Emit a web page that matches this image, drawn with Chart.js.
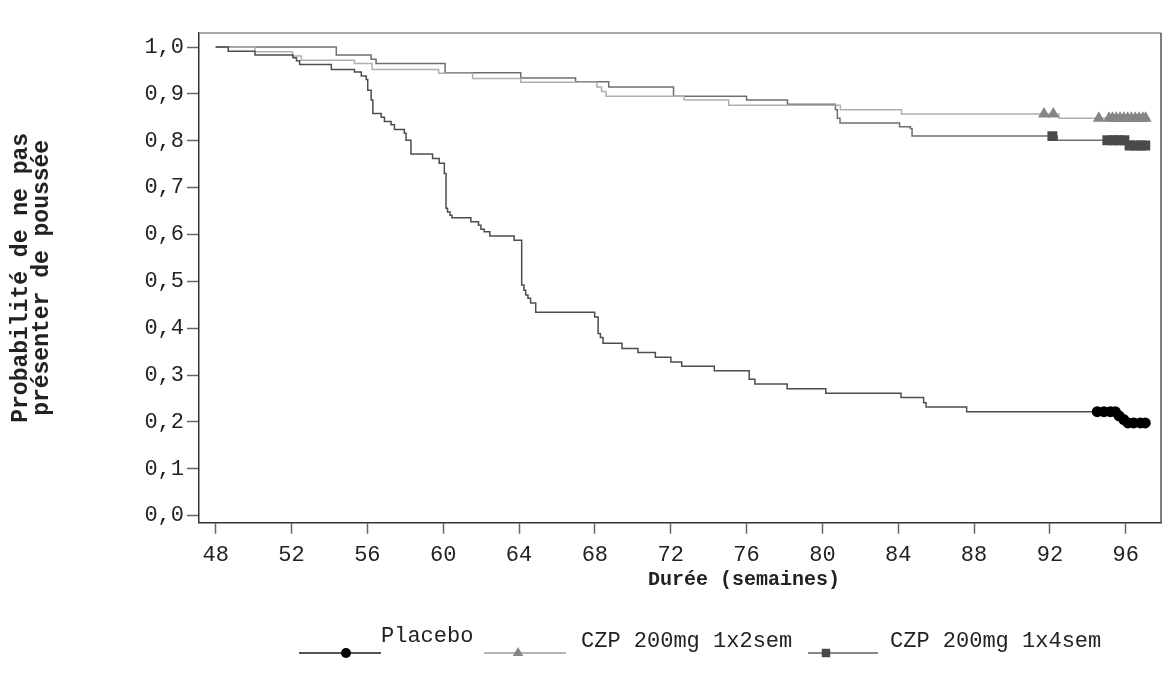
<!DOCTYPE html>
<html>
<head>
<meta charset="utf-8">
<script src="https://cdn.jsdelivr.net/npm/chart.js@4.4.1/dist/chart.umd.min.js"></script>
<style>
  body { margin: 0; background: #fff; }
  #wrap { width: 1168px; height: 677px; }
</style>
</head>
<body>
<div id="wrap"><canvas id="km" width="1168" height="677"></canvas></div>
<script>
// --- data (weeks, survival probability) ---
const seriesLabels = ['Placebo', 'CZP 200mg 1x2sem', 'CZP 200mg 1x4sem'];
const xTicks = [48, 52, 56, 60, 64, 68, 72, 76, 80, 84, 88, 92, 96];
const yTicks = [0, 0.1, 0.2, 0.3, 0.4, 0.5, 0.6, 0.7, 0.8, 0.9, 1.0];

// Placebo step curve
const placeboWeeks = [48, 48.66, 50.07, 52.08, 52.26, 52.43, 54.10, 55.32, 55.68, 55.94, 56.02, 56.20, 56.29, 56.73, 56.90, 57.25, 57.43, 57.95, 58.04, 58.30, 59.44, 59.79, 60.06, 60.15, 60.23, 60.36, 60.46, 61.46, 61.86, 61.99, 62.16, 62.46, 63.74, 64.14, 64.26, 64.35, 64.47, 64.61, 64.88, 67.99, 68.17, 68.29, 68.43, 69.43, 70.27, 71.19, 72.01, 72.58, 74.30, 76.14, 76.44, 78.14, 80.18, 84.15, 85.34, 85.47, 87.61, 95.60, 95.86, 96.07, 97.03];
const placeboSurv = [1.0, 0.991, 0.983, 0.977, 0.971, 0.963, 0.952, 0.947, 0.938, 0.931, 0.908, 0.887, 0.858, 0.850, 0.841, 0.834, 0.824, 0.816, 0.801, 0.772, 0.762, 0.752, 0.730, 0.656, 0.648, 0.641, 0.636, 0.627, 0.620, 0.611, 0.606, 0.597, 0.588, 0.492, 0.481, 0.471, 0.464, 0.454, 0.434, 0.424, 0.389, 0.380, 0.368, 0.357, 0.348, 0.338, 0.328, 0.319, 0.309, 0.291, 0.281, 0.271, 0.261, 0.252, 0.241, 0.232, 0.222, 0.213, 0.205, 0.198, 0.198];
// Placebo censored
const placeboCensWeeks = [94.50, 94.85, 95.19, 95.45, 95.65, 95.90, 96.12, 96.42, 96.77, 97.03];
const placeboCensSurv = [0.222, 0.222, 0.222, 0.222, 0.213, 0.205, 0.198, 0.198, 0.198, 0.198];

// CZP 200mg 1x2sem
const q2wWeeks = [48, 50.07, 52.05, 52.52, 55.32, 56.25, 59.76, 61.55, 64.09, 68.10, 68.35, 68.59, 72.71, 75.06, 80.95, 84.17, 92.48, 97.05];
const q2wSurv = [1.0, 0.990, 0.981, 0.972, 0.965, 0.952, 0.944, 0.933, 0.925, 0.915, 0.905, 0.895, 0.887, 0.876, 0.866, 0.857, 0.848, 0.848];
const q2wCensWeeks = [91.69, 92.18, 94.58, 95.12, 95.30, 95.50, 95.70, 95.90, 96.10, 96.30, 96.50, 96.70, 96.90, 97.05];
const q2wCensSurv = [0.857, 0.857, 0.848, 0.848, 0.848, 0.848, 0.848, 0.848, 0.848, 0.848, 0.848, 0.848, 0.848, 0.848];

// CZP 200mg 1x4sem
const q4wWeeks = [48, 54.36, 56.20, 56.46, 60.10, 64.09, 66.98, 68.73, 72.15, 76.00, 78.16, 80.69, 80.79, 80.93, 84.07, 84.64, 84.73, 92.39, 96.10, 97.03];
const q4wSurv = [1.0, 0.983, 0.974, 0.965, 0.945, 0.934, 0.926, 0.915, 0.895, 0.887, 0.878, 0.866, 0.848, 0.838, 0.830, 0.826, 0.810, 0.801, 0.790, 0.790];
const q4wCensWeeks = [92.13, 95.03, 95.33, 95.63, 95.93, 96.20, 96.50, 96.78, 97.03];
const q4wCensSurv = [0.810, 0.801, 0.801, 0.801, 0.801, 0.790, 0.790, 0.790, 0.790];

const MONO = "'Courier New', 'Liberation Mono', monospace";
const pts = (xs, ys) => xs.map((x, i) => ({ x: x, y: ys[i] }));

function curve(xs, ys, color) {
    return { data: pts(xs, ys), showLine: true, stepped: true, borderColor: color, borderWidth: 1.5, pointRadius: 0, fill: false, order: 1 };
}
function marks(xs, ys, style, radius, color) {
    return { data: pts(xs, ys), showLine: false, pointStyle: style, pointRadius: radius, pointBackgroundColor: color, pointBorderColor: color, pointBorderWidth: 0, order: 0 };
}

// frame, x title and legend (drawn by hand, the reference legend is line + marker + raised text)
const extras = {
    id: 'extras',
    afterDraw(chart) {
        const { ctx, chartArea: a } = chart;
        ctx.save();
        ctx.lineWidth = 1.5;
        ctx.strokeStyle = '#8c8c8c';
        ctx.beginPath(); ctx.moveTo(a.left, a.top); ctx.lineTo(a.right, a.top); ctx.stroke();
        ctx.strokeStyle = '#555';
        ctx.beginPath(); ctx.moveTo(a.right, a.top); ctx.lineTo(a.right, a.bottom); ctx.stroke();

        ctx.fillStyle = '#222';
        ctx.font = "bold 20px " + MONO;
        ctx.textAlign = 'center';
        ctx.textBaseline = 'middle';
        ctx.fillText('Durée (semaines)', 744, 580);

        const items = [
            { x0: 299, x1: 381, mx: 346, line: '#555', style: 'circle', r: 5, mark: '#000', tx: 381, ty: 636 },
            { x0: 484, x1: 566, mx: 518, line: '#b4b4b4', style: 'triangle', r: 6, mark: '#858585', tx: 581, ty: 641 },
            { x0: 808, x1: 878, mx: 826, line: '#8a8a8a', style: 'rect', r: 6, mark: '#4a4a4a', tx: 890, ty: 641 }
        ];
        const ly = 653;
        items.forEach((it, i) => {
            ctx.strokeStyle = it.line;
            ctx.lineWidth = 2;
            ctx.beginPath(); ctx.moveTo(it.x0, ly); ctx.lineTo(it.x1, ly); ctx.stroke();
            ctx.fillStyle = it.mark;
            Chart.helpers.drawPoint(ctx, { pointStyle: it.style, radius: it.r, rotation: 0, borderWidth: 0 }, it.mx, ly);
            ctx.fillStyle = '#222';
            ctx.font = "22px " + MONO;
            ctx.textAlign = 'left';
            ctx.fillText(seriesLabels[i], it.tx, it.ty);
        });
        ctx.restore();
    }
};

const ctx = document.getElementById('km').getContext('2d');
new Chart(ctx, {
    type: 'scatter',
    data: {
        datasets: [
            marks(placeboCensWeeks, placeboCensSurv, 'circle', 5.5, '#000'),
            marks(q2wCensWeeks, q2wCensSurv, 'triangle', 7, '#858585'),
            marks(q4wCensWeeks, q4wCensSurv, 'rect', 7, '#4a4a4a'),
            curve(placeboWeeks, placeboSurv, '#4d4d4d'),
            curve(q2wWeeks, q2wSurv, '#b0b0b0'),
            curve(q4wWeeks, q4wSurv, '#6e6e6e')
        ]
    },
    options: {
        responsive: false,
        animation: false,
        events: [],
        layout: { padding: { top: 33, right: 4, bottom: 0, left: 0 } },
        plugins: { legend: { display: false }, tooltip: { enabled: false } },
        scales: {
            x: {
                type: 'linear', min: 47.12, max: 97.86,
                afterBuildTicks: s => { s.ticks = xTicks.map(v => ({ value: v })); },
                afterFit: s => { s.height = 154.3; },
                grid: { drawOnChartArea: false, drawTicks: true, tickLength: 11, tickColor: '#666', tickWidth: 1.5 },
                border: { display: true, color: '#333', width: 1.5 },
                ticks: { font: { family: MONO, size: 22 }, color: '#222', padding: 8, maxRotation: 0, autoSkip: false, callback: v => String(v) }
            },
            y: {
                type: 'linear', min: -0.015, max: 1.03,
                afterBuildTicks: s => { s.ticks = yTicks.map(v => ({ value: v })); },
                afterFit: s => { s.width = 199; },
                grid: { drawOnChartArea: false, drawTicks: true, tickLength: 12, tickColor: '#666', tickWidth: 1.5 },
                border: { display: true, color: '#333', width: 1.5 },
                ticks: { font: { family: MONO, size: 22 }, color: '#222', padding: 3, autoSkip: false, callback: v => v.toFixed(1).replace('.', ',') },
                title: {
                    display: true,
                    text: ['Probabilité de ne pas', 'présenter de poussée'],
                    font: { family: MONO, size: 23, weight: 'bold', lineHeight: '21px' },
                    color: '#222',
                    padding: { top: 11, bottom: 0 }
                }
            }
        }
    },
    plugins: [extras]
});
</script>
</body>
</html>
